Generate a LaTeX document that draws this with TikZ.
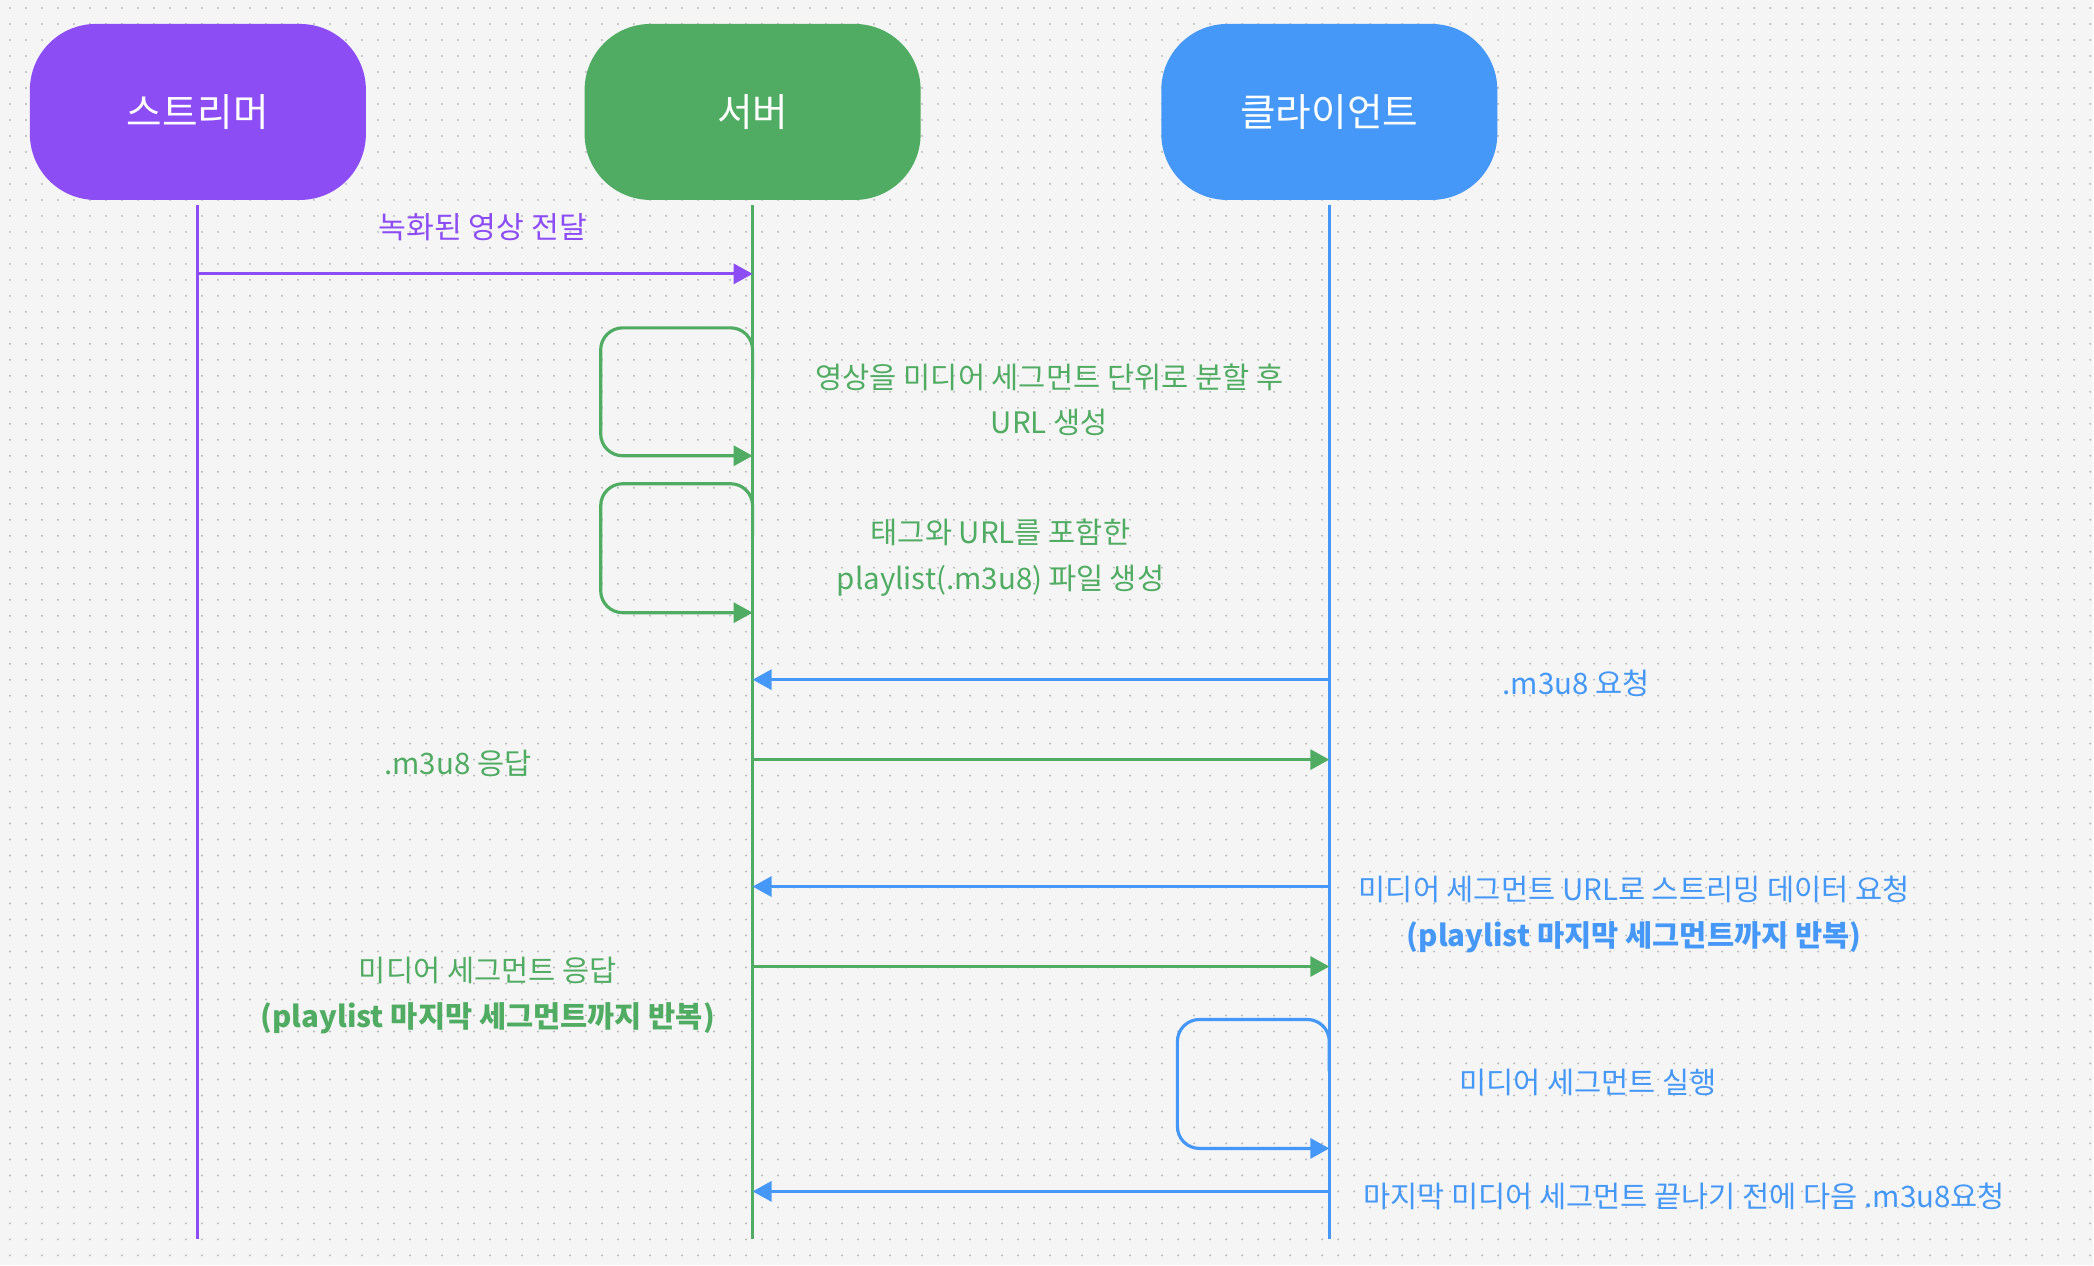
\documentclass[tikz,border=0pt]{standalone}
\usepackage{fontspec}
\setmainfont{Noto Sans CJK KR}
\usetikzlibrary{arrows.meta}

\definecolor{streamercol}{HTML}{8C4DF5}
\definecolor{servercol}{HTML}{51AC63}
\definecolor{clientcol}{HTML}{4598F7}
\definecolor{paper}{HTML}{F5F5F5}
\definecolor{griddot}{HTML}{B8B8B8}

\tikzset{
	actor/.style={rounded corners=0.66cm, minimum width=3.36cm, minimum height=1.76cm, inner sep=0pt, text=white, font=\fontsize{11}{12}\selectfont},
	lifeline/.style={line width=0.9pt, shorten <=0.04cm},
	msg/.style={line width=0.9pt, -{Triangle[length=0.19cm,width=0.2cm]}},
	msgtext/.style={inner sep=0pt, align=center, font=\fontsize{8.4}{13}\selectfont},
}

\begin{document}
\begin{tikzpicture}[x=0.01cm,y=-0.01cm]
			% dotted paper
			\fill[paper] (0,0) rectangle (2094,1266);
			\foreach \gy in {8,24,...,1266}
				\draw[griddot, line width=0.022cm, line cap=round, dash pattern=on 0pt off 0.16cm] (10,\gy) -- (2094,\gy);
			\useasboundingbox (0,0) rectangle (2094,1266);

			\node[actor, fill=streamercol] (streamer) at (198,112) {스트리머};
			\node[actor, fill=servercol] (server) at (753,112) {서버};
			\node[actor, fill=clientcol] (client) at (1330,112) {클라이언트};

			\coordinate (streamer-end) at (198,1240);
			\coordinate (server-end) at (753,1240);
			\coordinate (client-end) at (1330,1240);
			\draw[lifeline, streamercol] (streamer) -- (streamer-end);
			\draw[lifeline, servercol] (server) -- (server-end);
			\draw[lifeline, clientcol] (client) -- (client-end);

			% streamer -> server
			\draw[msg, streamercol] (streamer |- 0,274) -- (server |- 0,274);
			\node[msgtext, streamercol, font=\fontsize{8.6}{13}\selectfont] (txt-send) at (483,227) {녹화된 영상 전달};

			% server self loops
			\coordinate (split-corner) at (601,328);
			\draw[msg, servercol, rounded corners=0.22cm] (server |- 0,380) |- (split-corner) |- (server |- 0,456);
			\node[msgtext, servercol] (txt-split) at (1050,400) {영상을 미디어 세그먼트 단위로 분할 후\\URL 생성};

			\coordinate (playlist-corner) at (601,484);
			\draw[msg, servercol, rounded corners=0.22cm] (server |- 0,536) |- (playlist-corner) |- (server |- 0,613);
			\node[msgtext, servercol] (txt-playlist) at (1001,558) {태그와 URL를 포함한\\playlist(.m3u8) 파일 생성};

			% playlist request / response
			\draw[msg, clientcol] (client |- 0,680) -- (server |- 0,680);
			\node[msgtext, clientcol] (txt-req) at (1577,684) {.m3u8 요청};
			\draw[msg, servercol] (server |- 0,760) -- (client |- 0,760);
			\node[msgtext, servercol] (txt-resp) at (458,764) {.m3u8 응답};

			% segment request / response
			\draw[msg, clientcol] (client |- 0,887) -- (server |- 0,887);
			\node[msgtext, clientcol] (txt-segreq) at (1635,915) {미디어 세그먼트 URL로 스트리밍 데이터 요청\\\textbf{(playlist 마지막 세그먼트까지 반복)}};
			\draw[msg, servercol] (server |- 0,967) -- (client |- 0,967);
			\node[msgtext, servercol] (txt-segresp) at (488,996) {미디어 세그먼트 응답\\\textbf{(playlist 마지막 세그먼트까지 반복)}};

			% client self loop
			\coordinate (play-corner) at (1178,1020);
			\draw[msg, clientcol, rounded corners=0.22cm] (client |- 0,1072) |- (play-corner) |- (client |- 0,1149);
			\node[msgtext, clientcol] (txt-play) at (1589,1083) {미디어 세그먼트 실행};

			\draw[msg, clientcol] (client |- 0,1192) -- (server |- 0,1192);
			\node[msgtext, clientcol] (txt-next) at (1685,1197) {마지막 미디어 세그먼트 끝나기 전에 다음 .m3u8요청};
\end{tikzpicture}
\end{document}
